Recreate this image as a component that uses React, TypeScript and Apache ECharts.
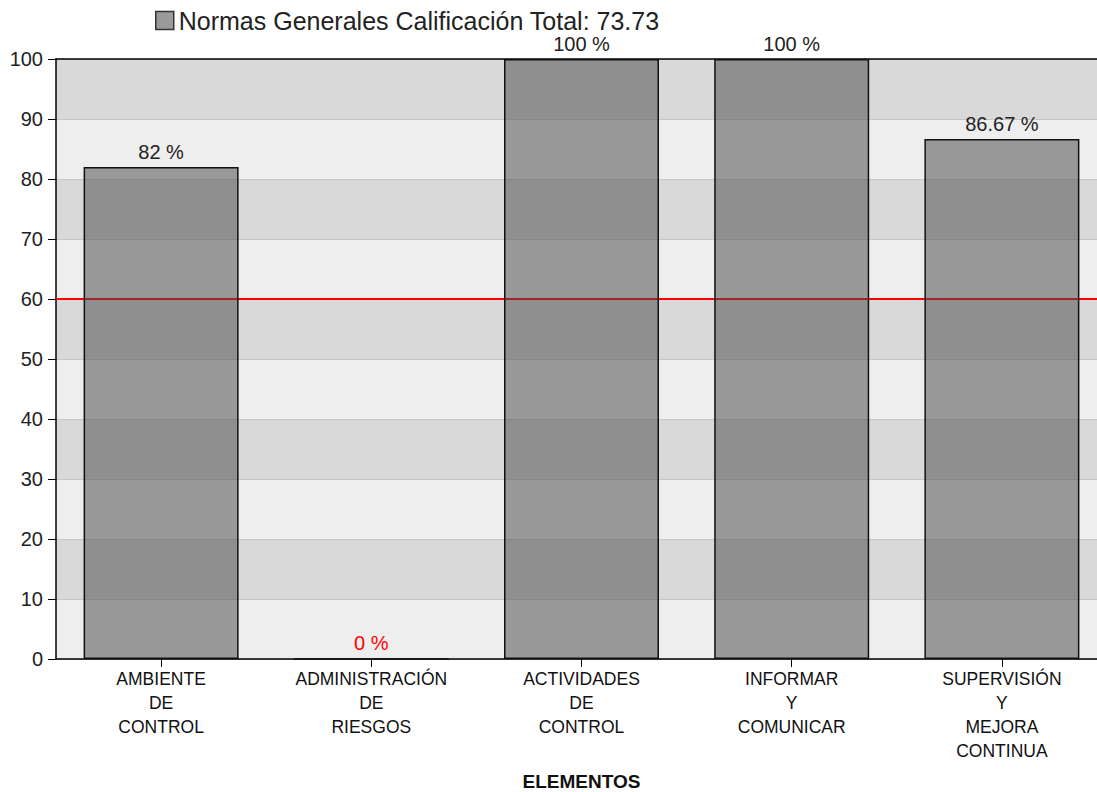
import React, { useEffect, useRef } from "react";
import * as echarts from "echarts";

const categories = [
  "AMBIENTE\nDE\nCONTROL",
  "ADMINISTRACIÓN\nDE\nRIESGOS",
  "ACTIVIDADES\nDE\nCONTROL",
  "INFORMAR\nY\nCOMUNICAR",
  "SUPERVISIÓN\nY\nMEJORA\nCONTINUA",
];
const values = [82, 0, 100, 100, 86.67];
const threshold = 60;
const seriesName = "Normas Generales Calificación Total: 73.73";
const axisTitle = "ELEMENTOS";
const yMin = 0;
const yMax = 100;
const yStep = 10;

const FONT = "'Liberation Sans', Arial, sans-serif";

export default function App() {
  const ref = useRef<HTMLDivElement>(null);
  useEffect(() => {
    if (!ref.current) return;
    const chart = echarts.init(ref.current, null, { renderer: "svg" });
    chart.setOption({
      animation: false,
      backgroundColor: "#ffffff",
      textStyle: { fontFamily: FONT },
      legend: {
        data: [seriesName],
        left: 150,
        top: 3,
        icon: "rect",
        itemWidth: 18,
        itemHeight: 18,
        itemGap: 10,
        textStyle: { fontSize: 25, color: "#222", fontFamily: FONT },
        itemStyle: { color: "#9a9a9a", borderColor: "#333", borderWidth: 1.5 },
      },
      grid: {
        left: 56,
        top: 59,
        bottom: 133,
        right: -10,
        containLabel: false,
        outerBoundsMode: "none",
      },
      xAxis: [
        {
          type: "category",
          data: categories,
          name: axisTitle,
          nameLocation: "middle",
          nameGap: 113,
          nameTextStyle: { fontSize: 19, fontWeight: "bold", color: "#111", fontFamily: FONT },
          axisLine: { show: true, lineStyle: { color: "#000", width: 1.5 } },
          axisTick: { show: true, alignWithLabel: true, length: 8, lineStyle: { color: "#000" } },
          axisLabel: {
            interval: 0,
            margin: 8,
            fontSize: 17.5,
            lineHeight: 24,
            color: "#111",
            fontFamily: FONT,
          },
          splitLine: { show: false },
        },
        {
          type: "category",
          data: categories,
          position: "top",
          axisLine: { show: true, lineStyle: { color: "#000", width: 1.5 } },
          axisTick: { show: false },
          axisLabel: { show: false },
        },
      ],
      yAxis: {
        type: "value",
        min: yMin,
        max: yMax,
        interval: yStep,
        axisLine: { show: true, lineStyle: { color: "#000", width: 1.5 } },
        axisTick: { show: true, length: 8, lineStyle: { color: "#000" } },
        axisLabel: { margin: 13, fontSize: 20, color: "#222", fontFamily: FONT },
        splitLine: { show: true, lineStyle: { color: "#c6c6c6", width: 1 } },
        splitArea: { show: true, areaStyle: { color: ["#eeeeee", "#d9d9d9"] } },
      },
      series: [
        {
          name: seriesName,
          type: "bar",
          data: values.map((v) => ({
            value: v,
            label: v === 0 ? { color: "#ff0000" } : undefined,
          })),
          barWidth: 155,
          z: 3,
          itemStyle: {
            color: "rgba(75,75,75,0.52)",
            borderColor: "#111",
            borderWidth: 1.5,
          },
          label: {
            show: true,
            position: "top",
            distance: 5,
            fontSize: 20,
            color: "#222",
            fontFamily: FONT,
            formatter: (p: any) => `${p.value} %`,
          },
          markLine: {
            silent: true,
            z: 1,
            symbol: "none",
            label: { show: false },
            lineStyle: { color: "#ff0000", width: 2, type: "solid" },
            data: [{ yAxis: threshold }],
          },
        },
      ],
    });
    return () => chart.dispose();
  }, []);
  return (
    <div
      ref={ref}
      style={{ position: "fixed", left: 0, top: 0, width: 1097, height: 792 }}
    />
  );
}
